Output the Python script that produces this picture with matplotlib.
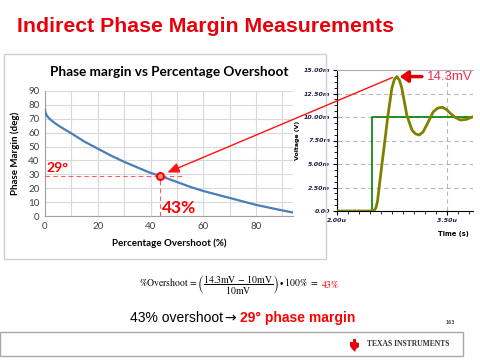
import matplotlib
matplotlib.use('Agg')
import matplotlib.pyplot as plt
from matplotlib.patches import Rectangle, ConnectionPatch, Polygon
from matplotlib.ticker import MultipleLocator, AutoMinorLocator, FuncFormatter

# phase margin vs percentage overshoot
overshoot = [0.0, 0.05, 0.2, 0.5, 1, 2, 4, 6, 10, 15, 20, 25, 30, 35, 40, 43.5,
             50, 55, 60, 65, 70, 75, 80, 85, 90, 94]
phase_margin = [76.5, 75.5, 74.5, 73, 71.5, 69.5, 66.5, 64, 59.5, 53.5, 48.5, 43.5,
                39, 35, 31, 29, 24.5, 21, 18, 15.5, 13, 10.5, 8, 6, 4, 2.5]
pm_os = 43.5
pm_deg = 29
os_label = '43%'
pm_label = '29°'

# step response (time in us, voltage in mV)
t_us = [2.00, 2.50, 2.53, 2.55, 2.61, 2.655, 2.69, 2.746, 2.78, 2.814, 2.85, 2.882,
        2.95, 3.02, 3.07, 3.12, 3.17, 3.22, 3.31, 3.37, 3.43, 3.49, 3.54, 3.61,
        3.68, 3.76, 3.85]
v_mv = [0, 0, 0.35, 0.99, 4.9, 7.73, 10.0, 13.05, 14.0, 14.3, 13.9, 13.05,
        10.2, 8.6, 8.2, 8.09, 8.4, 9.15, 10.56, 10.95, 11.03, 10.8, 10.4, 9.95,
        9.68, 9.75, 10.03]
step_t = [2.00, 2.48, 2.48, 3.85]
step_v = [0, 0, 10, 10]
time_ticks = [2.0, 3.5]

W, H = 480, 360
fig = plt.figure(figsize=(4.8, 3.6), dpi=100)
fig.patch.set_facecolor('white')

def fx(x):
    return x / W

def fy(y):
    return 1 - y / H

RED = '#E8000B'

# slide title
fig.text(fx(17), fy(27), 'Indirect Phase Margin Measurements', color=RED,
         fontsize=15.3, fontweight='bold', family='Liberation Sans', va='center', ha='left')

# frame around the left chart
fig.add_artist(Rectangle((fx(4), fy(259)), (326 - 4) / W, (259 - 54) / H,
                         transform=fig.transFigure, fill=False, ec='#D0D0D0', lw=1))

# ---- left chart ----
ax1 = fig.add_axes([fx(45), fy(216), (293 - 45) / W, (216 - 91) / H])
ax1.plot(overshoot, phase_margin, color='#4A7EBB', lw=1.6, zorder=3)
ax1.set_xlim(0, 94)
ax1.set_ylim(0, 90)
ax1.xaxis.set_major_locator(MultipleLocator(20))
ax1.xaxis.set_minor_locator(MultipleLocator(10))
ax1.yaxis.set_major_locator(MultipleLocator(10))
ax1.grid(which='both', color='#D9D9D9', lw=0.8)
ax1.set_axisbelow(True)
for s in ['top', 'right']:
    ax1.spines[s].set_visible(False)
for s in ['left', 'bottom']:
    ax1.spines[s].set_color('#A0A0A0')
ax1.tick_params(which='both', length=0, labelsize=7, colors='#404040', pad=4)
for lab in ax1.get_xticklabels() + ax1.get_yticklabels():
    lab.set_family('Lato')
ax1.set_title('Phase margin vs Percentage Overshoot', fontsize=9.8, fontweight='bold',
              family='Lato', pad=11)
ax1.set_xlabel('Percentage Overshoot (%)', fontsize=7, fontweight='bold', family='Lato',
               labelpad=6)
ax1.set_ylabel('Phase Margin (deg)', fontsize=7, fontweight='bold', family='Lato',
               labelpad=6)

ax1.plot([0, 53], [pm_deg, pm_deg], color='#FF5A5A', lw=0.8, ls=(0, (4, 3)), zorder=4)
ax1.plot([pm_os, pm_os], [0, 32], color='#FF5A5A', lw=0.8, ls=(0, (4, 3)), zorder=4)
ax1.plot([pm_os], [pm_deg], 'o', ms=5, mec='red', mfc='#FF9090', mew=1.5, zorder=5)
ax1.text(0.5, pm_deg + 1.5, pm_label, color='red', fontsize=10, fontweight='bold',
         family='Lato', ha='left', va='bottom')
ax1.text(pm_os + 0.8, 0.3, os_label, color='red', fontsize=12.5,
         fontweight='bold', family='Lato', ha='left', va='bottom')

# ---- right scope plot ----
ax2 = fig.add_axes([fx(337), fy(211), (473 - 337) / W, (211 - 70) / H])
ax2.plot(step_t, step_v, color='#008000', lw=1.2, zorder=3)
ax2.plot(t_us, v_mv, color='#808000', lw=2, zorder=4)
ax2.set_xlim(2.0, 3.85)
ax2.set_ylim(0, 15)
ax2.set_xticks(time_ticks)
ax2.xaxis.set_minor_locator(MultipleLocator(0.15, offset=2.0))
ax2.yaxis.set_major_locator(MultipleLocator(2.5))
ax2.yaxis.set_minor_locator(AutoMinorLocator(4))
ax2.xaxis.set_major_formatter(FuncFormatter(lambda v, p: '%.2fu' % v))
ax2.yaxis.set_major_formatter(FuncFormatter(lambda v, p: '0.00' if v == 0 else '%.2fm' % v))
ax2.grid(which='major', color='#B8B8B8', lw=0.8, ls=(0, (4, 3)))
ax2.spines['right'].set_visible(False)
ax2.spines['top'].set_color('#B0B0B0')
ax2.tick_params(which='major', length=3, width=0.8, labelsize=4.5, pad=2,
                labelcolor='#202040')
ax2.tick_params(which='minor', length=2, width=0.6)
for lab in ax2.get_xticklabels() + ax2.get_yticklabels():
    lab.set_fontweight('bold')
    lab.set_style('italic')
ax2.set_ylabel('Voltage (V)', fontsize=4.5, fontweight='bold', labelpad=3)
ax2.text(0.97, -0.14, 'Time (s)', transform=ax2.transAxes, fontsize=4.8,
         fontweight='bold', ha='right', va='top')

i_pk = v_mv.index(max(v_mv))
ax2.annotate('%.1fmV' % v_mv[i_pk], xy=(t_us[i_pk] + 0.04, v_mv[i_pk]),
             xytext=(3.23, v_mv[i_pk]), color='#F03050', fontsize=9.5,
             family='Liberation Sans', ha='left', va='center',
             arrowprops=dict(arrowstyle='-|>,head_length=0.5,head_width=0.35',
                             color='#E00000', lw=2.5, shrinkA=2, shrinkB=0))

con = ConnectionPatch(xyA=(t_us[i_pk] - 0.06, v_mv[i_pk] - 0.1), coordsA='data', axesA=ax2,
                      xyB=(pm_os, pm_deg), coordsB='data', axesB=ax1,
                      arrowstyle='-|>,head_length=0.7,head_width=0.3', color='#FF1010',
                      lw=1, shrinkB=6, mutation_scale=10, zorder=6)
fig.add_artist(con)

# ---- equation and conclusion ----
fig.text(fx(318), fy(285),
         r'$\%\mathrm{Overshoot}\,=\left(\dfrac{14.3\mathrm{mV}\,-\,10\mathrm{mV}}{10\mathrm{mV}}\right)\bullet 100\%\ =$',
         fontsize=7, ha='right', va='center', math_fontfamily='stix')
fig.text(fx(321), fy(285), r'$43\%$', fontsize=7, color='red', ha='left', va='center',
         math_fontfamily='stix')

fig.text(fx(223), fy(318), '43% overshoot', fontsize=10, family='Liberation Sans',
         ha='right', va='center')
fig.text(fx(224), fy(318), '\u2192', fontsize=10, family='DejaVu Sans',
         ha='left', va='center')
fig.text(fx(240), fy(318), pm_label + ' phase margin', fontsize=10, family='Liberation Sans',
         fontweight='bold', color='red', ha='left', va='center')

fig.text(fx(450), fy(323), '163', fontsize=3.5, ha='center', va='center')

# ---- footer ----
fig.add_artist(Rectangle((fx(0), fy(356)), 463 / W, (356 - 332) / H,
                         transform=fig.transFigure, fill=False, ec='#A8A8A8', lw=1))
logo = [(350, 342), (353, 342), (353, 339), (356, 339), (356, 342), (359, 343),
        (359, 347), (356, 349), (355, 352), (352, 349), (350, 346)]
fig.add_artist(Polygon([(fx(a), fy(b)) for a, b in logo], closed=True,
                       transform=fig.transFigure, fc='#E8000B', ec='none'))
fig.text(fx(367), fy(344), 'TEXAS INSTRUMENTS', fontsize=5.5, family='Liberation Serif',
         fontweight='bold', color='#333333', ha='left', va='center')

fig.savefig('out.png', dpi=100)
